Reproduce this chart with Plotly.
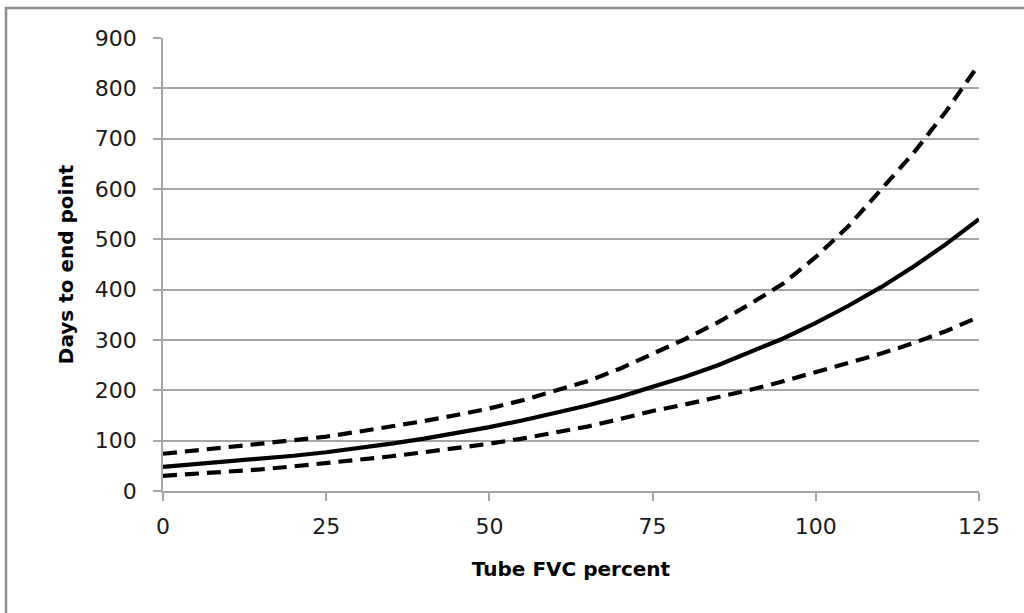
import plotly.graph_objects as go

x_vals = [0, 5, 10, 15, 20, 25, 30, 35, 40, 45, 50, 55, 60, 65, 70, 75, 80, 85, 90, 95, 100, 105, 110, 115, 120, 125]
middle = [48, 53, 58, 64, 70, 77, 85, 94, 104, 115, 127, 140, 154, 170, 187, 206, 227, 250, 276, 303, 334, 368, 405, 446, 491, 540]
upper = [74, 80, 87, 94, 101, 108, 118, 128, 139, 151, 164, 180, 198, 218, 243, 272, 302, 335, 372, 412, 465, 526, 598, 672, 755, 848]
lower = [30, 34, 38, 43, 49, 55, 62, 69, 77, 85, 94, 104, 116, 128, 143, 159, 172, 186, 201, 218, 236, 254, 273, 294, 318, 346]

x_ticks = [0, 25, 50, 75, 100, 125]
y_ticks = [0, 100, 200, 300, 400, 500, 600, 700, 800, 900]

FONT = "DejaVu Sans"
GRID = "#a6a6a6"

fig = go.Figure()
fig.add_trace(go.Scatter(x=x_vals, y=upper, mode="lines", name="Upper",
                         line=dict(color="black", width=4.2, dash="14px,8px")))
fig.add_trace(go.Scatter(x=x_vals, y=middle, mode="lines", name="Estimate",
                         line=dict(color="black", width=4.2)))
fig.add_trace(go.Scatter(x=x_vals, y=lower, mode="lines", name="Lower",
                         line=dict(color="black", width=4.2, dash="14px,8px")))

fig.update_layout(
    width=1024, height=613,
    margin=dict(l=163, r=45, t=38, b=122),
    paper_bgcolor="white", plot_bgcolor="white",
    showlegend=False,
    font=dict(family=FONT, color="#1a1a1a"),
    xaxis=dict(
        range=[0, 125], tickvals=x_ticks, ticktext=[str(v) for v in x_ticks],
        showgrid=False, zeroline=False,
        showline=True, linecolor=GRID, linewidth=1.5,
        ticks="outside", ticklen=8, tickcolor=GRID, tickwidth=1.5,
        tickfont=dict(size=22, family=FONT, color="#1a1a1a"),
        ticklabelstandoff=7,
        title=dict(text="<b>Tube FVC percent</b>", font=dict(size=20, family=FONT, color="black"), standoff=24),
    ),
    yaxis=dict(
        range=[0, 900], tickvals=y_ticks, ticktext=[str(v) for v in y_ticks],
        showgrid=True, gridcolor=GRID, gridwidth=1.5, zeroline=False,
        showline=True, linecolor=GRID, linewidth=1.5,
        ticks="outside", ticklen=8, tickcolor=GRID, tickwidth=1.5,
        tickfont=dict(size=22, family=FONT, color="#1a1a1a"),
        ticklabelstandoff=12,
        title=dict(text="<b>Days to end point</b>", font=dict(size=20, family=FONT, color="black"), standoff=16),
    ),
    shapes=[dict(type="rect", xref="paper", yref="paper",
                 x0=(6 - 163) / 816, x1=(1030 - 163) / 816,
                 y0=(491 - 625) / 453, y1=(491 - 8) / 453,
                 line=dict(color="#8c8c8c", width=2.5), fillcolor="rgba(0,0,0,0)", layer="below")],
)

fig.write_html("out.html")
